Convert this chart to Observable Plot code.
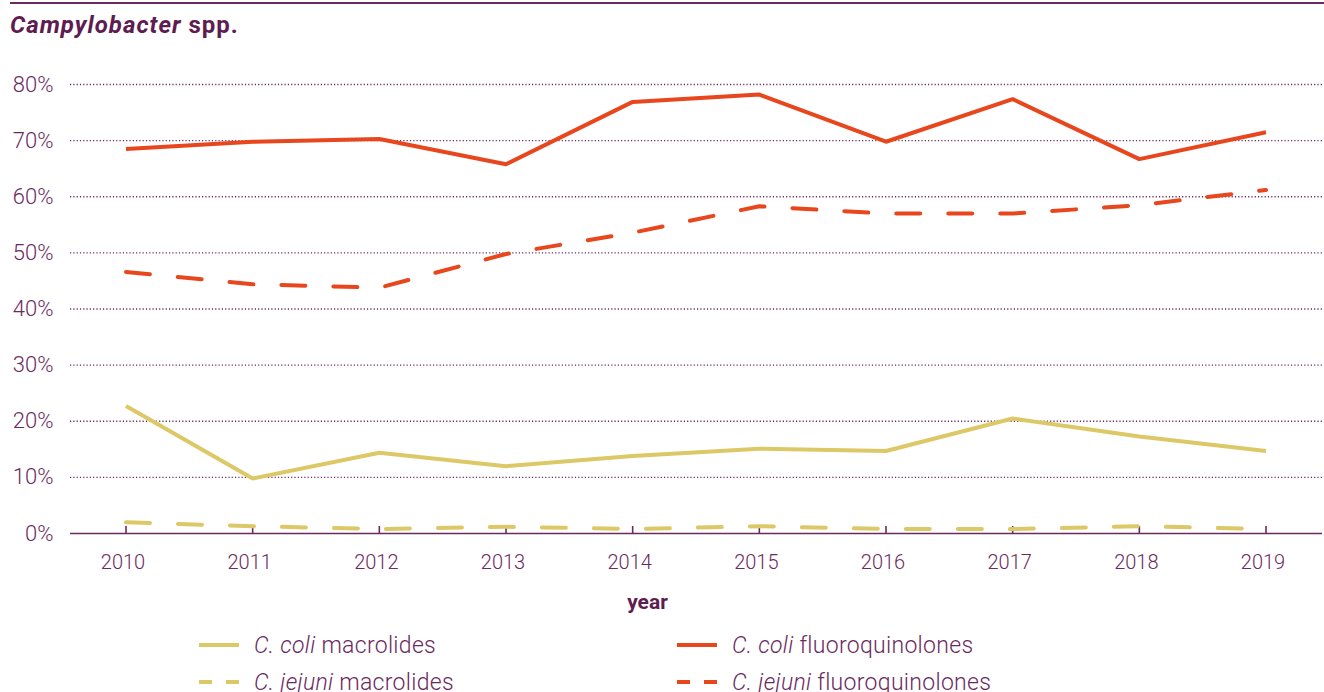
<!DOCTYPE html>
<html>
<head>
<meta charset="utf-8">
<script src="https://cdn.jsdelivr.net/npm/d3@7"></script>
<script src="https://cdn.jsdelivr.net/npm/@observablehq/plot@0.6"></script>
<style>
  html, body { margin: 0; padding: 0; background: #fff; }
  body { width: 1324px; height: 692px; overflow: hidden; position: relative;
         font-family: Roboto, "Noto Sans", sans-serif; color: #6b2a5f; }
  .rule { position: absolute; left: 10px; right: 0; top: 2px; height: 2px; background: #6b2a5f; }
  .title { position: absolute; left: 10px; top: 11px; font-size: 24px; font-weight: 700;
           color: #5e1c50; letter-spacing: 1px; }
  #chart { position: absolute; left: 0; top: 60px; }
  .legend { position: absolute; font-size: 23px; font-weight: 300; display: flex; align-items: center;
            white-space: nowrap; letter-spacing: 0.3px; }
  .legend svg { margin-right: 14px; }
</style>
</head>
<body>
<div class="rule"></div>
<div class="title"><i>Campylobacter</i> spp.</div>
<div id="chart"></div>
<div id="legend"></div>
<script>
// Resistance (%) by year
const years = [2010, 2011, 2012, 2013, 2014, 2015, 2016, 2017, 2018, 2019];
const coliMacrolides   = [22.7, 9.8, 14.4, 12.0, 13.8, 15.1, 14.7, 20.5, 17.3, 14.7];
const jejuniMacrolides = [2.0, 1.3, 0.8, 1.2, 0.8, 1.3, 0.8, 0.8, 1.3, 0.8];
const coliFluoro       = [68.5, 69.8, 70.3, 65.8, 76.9, 78.2, 69.8, 77.4, 66.7, 71.5];
const jejuniFluoro     = [46.6, 44.4, 43.8, 49.8, 53.6, 58.3, 57.0, 57.0, 58.5, 61.2];
const yTicks = [0, 10, 20, 30, 40, 50, 60, 70, 80];

const purple = "#6b2a5f";
const red = "#e8461d";
const gold = "#dcc866";
const dash = "24,28";

const series = [
  {species: "C. coli",   drug: "macrolides",      values: coliMacrolides,   color: gold, dashed: false},
  {species: "C. coli",   drug: "fluoroquinolones", values: coliFluoro,      color: red,  dashed: false},
  {species: "C. jejuni", drug: "macrolides",      values: jejuniMacrolides, color: gold, dashed: true},
  {species: "C. jejuni", drug: "fluoroquinolones", values: jejuniFluoro,    color: red,  dashed: true}
];

const lineMarks = series.map(s =>
  Plot.line(years.map((y, i) => ({year: y, value: s.values[i]})), {
    x: "year", y: "value", stroke: s.color, strokeWidth: 4,
    strokeDasharray: s.dashed ? dash : null,
    strokeLinecap: s.dashed ? "round" : "butt", strokeLinejoin: "miter"
  })
);

const chart = Plot.plot({
  width: 1324,
  height: 560,
  marginTop: 24,
  marginBottom: 87,
  marginLeft: 70,
  marginRight: 2,
  style: {fontFamily: "Roboto, 'Noto Sans', sans-serif", color: purple, background: "transparent"},
  x: {domain: [2010, 2019], range: [125.5, 1265.5], axis: null},
  y: {domain: [0, 80], axis: null},
  marks: [
    Plot.ruleY(yTicks.filter(d => d > 0), {stroke: purple, strokeWidth: 1.3, strokeDasharray: "1.2,2.1"}),
    Plot.axisY({ticks: yTicks, tickSize: 0, tickPadding: 17, tickFormat: d => d + "%",
                fontSize: 22, fontWeight: 300, fill: purple, label: null}),
    Plot.ruleY([0], {stroke: purple, strokeWidth: 1.6}),
    Plot.ruleX(years, {y1: 0, y2: 0, insetTop: -7, stroke: purple, strokeWidth: 1.6}),
    Plot.text(years, {x: d => d, y: 0, dy: 29, dx: -3, text: d => String(d),
                      fontSize: 20, fontWeight: 300, fill: purple}),
    Plot.text(["year"], {frameAnchor: "bottom", lineAnchor: "middle", dx: -49, dy: 69, text: d => d,
                         fontSize: 21, fontWeight: 700, fill: "#5e1c50"}),
    ...lineMarks
  ]
});
document.getElementById("chart").appendChild(chart);

// Legend: two columns, solid (C. coli) and dashed (C. jejuni)
const legendPos = [
  {left: 198, top: 645}, {left: 676, top: 645},
  {left: 198, top: 682}, {left: 676, top: 682}
];
const legend = document.getElementById("legend");
series.forEach((s, i) => {
  const item = document.createElement("div");
  item.className = "legend";
  item.style.left = legendPos[i].left + "px";
  item.style.top = (legendPos[i].top - 15) + "px";
  item.style.height = "30px";
  const sw = s.dashed
    ? `<svg width="42" height="10"><line x1="1" y1="5" x2="41" y2="5" stroke="${s.color}" stroke-width="4" stroke-dasharray="13,14" stroke-linecap="butt"/></svg>`
    : `<svg width="42" height="10"><line x1="1" y1="5" x2="41" y2="5" stroke="${s.color}" stroke-width="4"/></svg>`;
  item.innerHTML = sw + `<span><i>${s.species}</i> ${s.drug}</span>`;
  legend.appendChild(item);
});
</script>
</body>
</html>
